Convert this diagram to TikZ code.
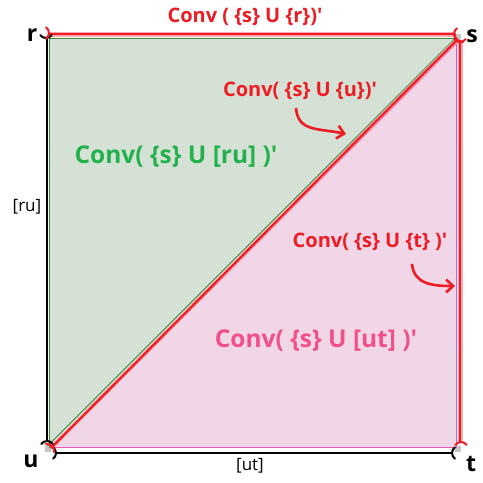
\documentclass[tikz,border=0pt]{standalone}
\usepackage{fontspec}
\setmainfont{Open Sans}
\usetikzlibrary{arrows.meta}
\definecolor{myred}{RGB}{237,28,36}
\definecolor{halo}{RGB}{246,170,175}
\definecolor{gfill}{RGB}{214,225,214}
\definecolor{pfill}{RGB}{240,214,230}
\definecolor{gline}{RGB}{60,135,60}
\definecolor{pline}{RGB}{232,90,180}
\definecolor{gtext}{RGB}{34,177,76}
\definecolor{ptext}{RGB}{242,80,138}
\newcommand\mybrk[3]{\draw[#1, line width=2pt, line cap=round] (#2) ++(#3:7) ++(#3+125:7) arc[start angle=#3+125, end angle=#3+235, radius=7];}
\newcommand\pr{\textquotesingle}
\tikzset{
  redlbl/.style={text=myred, font=\bfseries\fontsize{20}{23}\selectfont, inner sep=0pt},
  vlbl/.style={text=black, font=\bfseries\fontsize{23}{25}\selectfont, inner sep=0pt},
  seglbl/.style={text=black, font=\fontsize{17}{19}\selectfont, inner sep=0pt},
  bigl/.style={font=\bfseries\fontsize{24.5}{28}\selectfont, inner sep=0pt},
  redarrow/.style={myred, line width=2.6pt, -{Straight Barb[length=7pt,width=13pt,line width=2.6pt]}},
}
\begin{document}
\begin{tikzpicture}[x=1pt,y=-1pt]
\useasboundingbox[fill=white] (0,0) rectangle (483,483);
% corner coordinates
\coordinate (r) at (47,36);
\coordinate (s) at (459,36);
\coordinate (u) at (47,452);
\coordinate (t) at (459,452);
% fills
\fill[gfill] (49,38) -- (455,38) -- (49,448) -- cycle;
\fill[pfill] (458,41) -- (457,447) -- (53,447) -- cycle;
% small gray corner squares
\fill[gray!45] (455,34) rectangle (461,40);
\fill[gray!45] (455,446) rectangle (461,452);
\fill[gray!45] (45,446) rectangle (51,452);
\fill[gray!30] (46,35) rectangle (51,39);
% green outline
\draw[gline, line width=1pt] (49.5,448) -- (49.5,38.5) -- (455,38.5);
\draw[gline, line width=1pt] (47.5,446) -- (455,38.5);
% pink outline
\draw[pline, line width=1pt] (456,40) -- (456,447.5) -- (53,447.5);
\draw[pline, line width=1pt] (53,447.5) -- (459,41);
% diagonal red
\coordinate (da) at (51,448);
\coordinate (db) at (458,39);
\draw[halo, line width=4pt] (da) -- (db);
\draw[myred, line width=2.2pt] (da) -- (db);
% red top line
\coordinate (ta) at (48,34);
\coordinate (tb) at (455,34);
\draw[halo, line width=5pt] (ta) -- (tb);
\draw[myred, line width=2.4pt] (ta) -- (tb);
% red right line
\coordinate (ra) at (460,40);
\coordinate (rb) at (460,442);
\draw[halo, line width=5pt] (ra) -- (rb);
\draw[myred, line width=2.4pt] (ra) -- (rb);
% black lines
\draw[black, line width=2.8pt] (47,38) -- (47,441);
\draw[black, line width=2.6pt] (55,453) -- (452,453);
% brackets
\mybrk{black}{46,38}{270}
\mybrk{black}{47,441}{90}
\mybrk{black}{56,453}{180}
\mybrk{black}{452,453}{0}
\mybrk{myred}{49,33}{180}
\mybrk{myred}{454,34}{0}
\mybrk{myred}{460,42}{270}
\mybrk{myred}{461,442}{90}
\mybrk{myred}{457,40}{315}
\mybrk{myred}{52,446}{135}
% vertex labels
\node[vlbl] (lr) at (32,35) {r};
\node[vlbl] (ls) at (472,36) {s};
\node[vlbl] (lu) at (31,461) {u};
\node[vlbl] (lt) at (471,464) {t};
% segment labels
\node[seglbl] (lru) at (27,207) {[ru]};
\node[seglbl] (lut) at (250,466) {[ut]};
% region labels
\node[redlbl] (csr) at (245,17) {Conv ( \{s\} U \{r\})\pr};
\node[redlbl] (csu) at (300,91) {Conv( \{s\} U \{u\})\pr};
\node[redlbl] (cst) at (370,242) {Conv( \{s\} U \{t\} )\pr};
\node[bigl, text=gtext] (csru) at (176,157) {Conv( \{s\} U [ru] )\pr};
\node[bigl, text=ptext] (csut) at (316,341) {Conv( \{s\} U [ut] )\pr};
% arrows
\coordinate (a1) at (346,134);
\coordinate (a2) at (455,286);
\draw[redarrow] (296,108) .. controls (298,132) and (318,128) .. (a1);
\draw[redarrow] (412,264) .. controls (414,284) and (432,286) .. (a2);
\end{tikzpicture}
\end{document}
